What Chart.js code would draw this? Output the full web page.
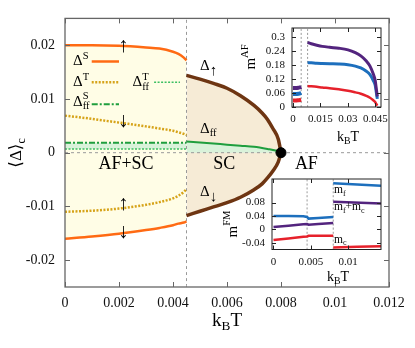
<!DOCTYPE html>
<html><head><meta charset="utf-8">
<script src="https://cdn.jsdelivr.net/npm/chart.js@4.4.1/dist/chart.umd.min.js"></script>
<style>
html,body{margin:0;padding:0;background:#fff;}
#wrap{position:relative;width:415px;height:348px;overflow:hidden;}
#wrap canvas{position:absolute;left:0;top:0;}
</style></head><body>
<div id="wrap">
<canvas id="main" width="415" height="348"></canvas>
<canvas id="inA" width="415" height="348"></canvas>
<canvas id="inB" width="415" height="348"></canvas>
</div>
<script>
// ---------------- main chart data ----------------
const xAfSc     = [0, 0.001, 0.002, 0.003, 0.0035, 0.004, 0.0042, 0.0044, 0.0045];
const deltaSUp  = [0.0200, 0.0200, 0.0199, 0.0196, 0.0194, 0.0188, 0.0184, 0.0177, 0.0172];
const deltaSLow = [-0.0160, -0.0156, -0.0151, -0.0144, -0.0140, -0.0135, -0.0132, -0.0130, -0.0128];
const deltaTUp  = [0.0069, 0.0063, 0.0056, 0.0049, 0.0045, 0.0041, 0.0038, 0.0035, 0.0033];
const deltaTLow = [-0.0110, -0.0108, -0.0104, -0.0097, -0.0092, -0.0085, -0.0080, -0.0073, -0.0068];
const xFfAfSc   = [0, 0.0045];
const deltaSff  = [0.00185, 0.00185];
const deltaTff  = [0.0007, 0.0007];
const xSc       = [0.0045, 0.005, 0.0055, 0.006, 0.0065, 0.007, 0.0073, 0.0075, 0.0077, 0.0079, 0.008];
const deltaUp   = [0.0144, 0.0137, 0.0129, 0.0120, 0.0106, 0.0088, 0.0074, 0.0062, 0.0045, 0.0025, 0.0];
const deltaDown = [-0.0117, -0.0109, -0.0101, -0.0093, -0.0083, -0.0069, -0.0058, -0.0047, -0.0034, -0.0017, 0.0];
const xFfSc     = [0.0045, 0.005, 0.0055, 0.006, 0.0065, 0.007, 0.0075, 0.0078, 0.008];
const deltaFf   = [0.0021, 0.0019, 0.0017, 0.0015, 0.0013, 0.0011, 0.0007, 0.0004, 0.0];
const tcPoint   = [0.008, 0];
const boundaryX = 0.0045;
const mainXTicks = [0, 0.002, 0.004, 0.006, 0.008, 0.01, 0.012];
const mainYTicks = [-0.02, -0.01, 0, 0.01, 0.02];
// legend sample segments
const legSX = [0.00099, 0.0020], legSY = [0.0170, 0.0170];
const legTX = [0.00099, 0.0020], legTY = [0.0131, 0.0131];
const legSffX = [0.00099, 0.0020], legSffY = [0.0090, 0.0090];
const legTffX = [0.0033, 0.00426], legTffY = [0.0131, 0.0131];

// ---------------- inset A (m^AF) ----------------
const xAfLow = [0, 0.0015, 0.003, 0.004, 0.0045];
const mAfLowPurple = [0.082, 0.082, 0.083, 0.085, 0.087];
const mAfLowBlue   = [0.056, 0.056, 0.057, 0.059, 0.061];
const mAfLowRed    = [0.028, 0.028, 0.029, 0.030, 0.031];
const xAfHigh = [0.008, 0.010, 0.013, 0.016, 0.020, 0.025, 0.030, 0.034, 0.037, 0.040, 0.042, 0.0438, 0.0448, 0.0455, 0.046];
const mAfHighPurple = [0.278, 0.272, 0.266, 0.261, 0.257, 0.253, 0.246, 0.234, 0.220, 0.198, 0.176, 0.142, 0.116, 0.075, 0.045];
const mAfHighBlue   = [0.191, 0.190, 0.188, 0.187, 0.186, 0.185, 0.182, 0.176, 0.168, 0.154, 0.139, 0.114, 0.095, 0.060, 0.035];
const mAfHighRed    = [0.090, 0.089, 0.087, 0.084, 0.081, 0.076, 0.070, 0.063, 0.057, 0.048, 0.040, 0.029, 0.022, 0.012, 0.006];
const insetAXTicks = [0, 0.015, 0.03, 0.045];
const insetAYTicks = [0, 0.06, 0.12, 0.18, 0.24, 0.3];

// ---------------- inset B (m^FM) ----------------
const xFmLow = [0, 0.002, 0.004, 0.0045, 0.0047, 0.006, 0.008];
const mFLow  = [0.040, 0.040, 0.039, 0.037, 0.032, 0.034, 0.037];
const mFCLow = [0.007, 0.011, 0.015, 0.016, 0.014, 0.016, 0.019];
const mCLow  = [-0.032, -0.027, -0.022, -0.021, -0.019, -0.019, -0.019];
const xFmHigh = [0.008, 0.0144];
const mFHigh  = [0.137, 0.130];
const mFCHigh = [0.082, 0.077];
const mCHigh  = [-0.054, -0.050];
const insetBXTicks = [0, 0.005, 0.01];
const insetBYTicks = [-0.04, 0, 0.04, 0.08];

// ---------------- helpers ----------------
const FAM = '"Liberation Serif","DejaVu Serif",serif';
const pts = (xs, ys) => xs.map((x, i) => ({x: x, y: ys[i]}));

function drawRich(ctx, x, y, parts, size, align, color) {
  const items = []; let w = 0;
  for (const p of parts) {
    const small = size * (p.scale || 0.7);
    if (p.t) { ctx.font = size + 'px ' + FAM; items.push({s: p.t, f: ctx.font, x: w, y: 0}); w += ctx.measureText(p.t).width; }
    let ext = 0;
    if (p.sup) { ctx.font = small + 'px ' + FAM; items.push({s: p.sup, f: ctx.font, x: w, y: -size * 0.36}); ext = Math.max(ext, ctx.measureText(p.sup).width); }
    if (p.sub) { ctx.font = small + 'px ' + FAM; items.push({s: p.sub, f: ctx.font, x: w, y: size * 0.30}); ext = Math.max(ext, ctx.measureText(p.sub).width); }
    w += ext;
  }
  const x0 = align === 'center' ? x - w / 2 : (align === 'right' ? x - w : x);
  ctx.fillStyle = color || '#000'; ctx.textBaseline = 'middle'; ctx.textAlign = 'left';
  for (const it of items) { ctx.font = it.f; ctx.fillText(it.s, x0 + it.x, y + it.y); }
}

const bgPlugin = {
  id: 'plotbg',
  beforeDatasetsDraw(chart, args, o) {
    if (!o.color) return;
    const a = chart.chartArea, ctx = chart.ctx;
    ctx.save(); ctx.fillStyle = o.color; ctx.fillRect(a.left, a.top, a.right - a.left, a.bottom - a.top); ctx.restore();
  }
};
const textPlugin = {
  id: 'texts',
  afterDatasetsDraw(chart, args, o) {
    const ctx = chart.ctx, xs = chart.scales.x, ys = chart.scales.y;
    ctx.save();
    (o.labels || []).forEach(l => drawRich(ctx, xs.getPixelForValue(l.x), ys.getPixelForValue(l.y), l.parts, l.size, l.align));
    (o.titles || []).forEach(t => {
      ctx.save(); ctx.translate(t.px, t.py); if (t.rot) ctx.rotate(-Math.PI / 2);
      drawRich(ctx, 0, 0, t.parts, t.size, 'center'); ctx.restore();
    });
    ctx.restore();
  }
};
const framePlugin = {
  id: 'frame',
  afterDraw(chart, args, o) {
    const ctx = chart.ctx, a = chart.chartArea, xs = chart.scales.x, ys = chart.scales.y, L = o.tick;
    ctx.save();
    ctx.strokeStyle = o.color; ctx.lineWidth = o.width;
    ctx.strokeRect(a.left, a.top, a.right - a.left, a.bottom - a.top);
    ctx.lineWidth = 1; ctx.beginPath();
    xs.ticks.forEach(t => { const p = Math.round(xs.getPixelForValue(t.value)) + 0.5;
      ctx.moveTo(p, a.bottom); ctx.lineTo(p, a.bottom - L); ctx.moveTo(p, a.top); ctx.lineTo(p, a.top + L); });
    ys.ticks.forEach(t => { const p = Math.round(ys.getPixelForValue(t.value)) + 0.5;
      ctx.moveTo(a.left, p); ctx.lineTo(a.left + L, p); ctx.moveTo(a.right, p); ctx.lineTo(a.right - L, p); });
    ctx.stroke(); ctx.restore();
  }
};

function axis(min, max, tickArr, fitKey, fitVal, fontSize, pad) {
  return {
    type: 'linear', min: min, max: max,
    afterBuildTicks: s => { s.ticks = tickArr.map(v => ({value: v})); },
    afterFit: s => { s[fitKey] = fitVal; },
    ticks: {callback: v => String(v), font: {family: FAM, size: fontSize}, color: '#111', padding: pad, maxRotation: 0, autoSkip: false},
    grid: {display: false, drawTicks: false}, border: {display: false}
  };
}
function line(data, color, width, opts) {
  return Object.assign({data: data, borderColor: color, borderWidth: width, pointRadius: 0, fill: false,
    cubicInterpolationMode: 'monotone', borderCapStyle: 'butt'}, opts || {});
}
const baseOpts = {responsive: false, animation: false, events: []};

// ---------------- main chart ----------------
const C_OR = '#ff6a13', C_GOLD = '#d6a319', C_GR = '#1f9e3e', C_GR2 = '#3cbf62', C_BR = '#6e3512';
const mainTexts = [
  {x: 0.0003, y: 0.0170, parts: [{t: 'Δ', sup: 'S'}], size: 15, align: 'left'},
  {x: 0.0003, y: 0.0131, parts: [{t: 'Δ', sup: 'T'}], size: 15, align: 'left'},
  {x: 0.0003, y: 0.0095, parts: [{t: 'Δ', sup: 'S', sub: 'ff'}], size: 15, align: 'left'},
  {x: 0.0025, y: 0.0131, parts: [{t: 'Δ', sup: 'T', sub: 'ff'}], size: 15, align: 'left'},
  {x: 0.00216, y: 0.0198, parts: [{t: '↑'}], size: 21, align: 'center'},
  {x: 0.00216, y: 0.0058, parts: [{t: '↓'}], size: 21, align: 'center'},
  {x: 0.00216, y: -0.0097, parts: [{t: '↑'}], size: 21, align: 'center'},
  {x: 0.00216, y: -0.0148, parts: [{t: '↓'}], size: 21, align: 'center'},
  {x: 0.00226, y: -0.0021, parts: [{t: 'AF+SC'}], size: 18, align: 'center'},
  {x: 0.0059, y: -0.0021, parts: [{t: 'SC'}], size: 18, align: 'center'},
  {x: 0.00894, y: -0.0021, parts: [{t: 'AF'}], size: 18, align: 'center'},
  {x: 0.0050, y: 0.0161, parts: [{t: 'Δ', sub: '↑', scale: 1.0}], size: 15, align: 'left'},
  {x: 0.0050, y: 0.0044, parts: [{t: 'Δ', sub: 'ff'}], size: 15, align: 'left'},
  {x: 0.0050, y: -0.0074, parts: [{t: 'Δ', sub: '↓', scale: 1.0}], size: 15, align: 'left'}
];
new Chart(document.getElementById('main'), {
  type: 'line',
  data: {datasets: [
    {data: [{x: tcPoint[0], y: tcPoint[1]}], showLine: false, pointRadius: 5, pointBackgroundColor: '#000', pointBorderColor: '#000', order: 0},
    line(pts(xFfSc, deltaFf), C_GR, 2, {fill: 'origin', backgroundColor: '#d9f2da', order: 1}),
    line(pts(xFfAfSc, deltaSff), C_GR, 2, {fill: 3, backgroundColor: '#d9f2da', borderDash: [6, 2, 2, 2], order: 2}),
    line(pts(xFfAfSc, deltaTff), C_GR2, 1.5, {borderDash: [2, 1.5], order: 3}),
    line(pts(xSc, deltaUp), C_BR, 3.5, {fill: 'origin', backgroundColor: '#f6ebd6', order: 4}),
    line(pts(xSc, deltaDown), C_BR, 3.5, {fill: 'origin', backgroundColor: '#f6ebd6', order: 5}),
    line(pts(xAfSc, deltaSUp), C_OR, 2.5, {fill: 'origin', backgroundColor: '#fffde6', order: 6}),
    line(pts(xAfSc, deltaSLow), C_OR, 2.5, {fill: 'origin', backgroundColor: '#fffde6', order: 7}),
    line(pts(xAfSc, deltaTUp), C_GOLD, 2.5, {borderDash: [2, 1.5], order: 8}),
    line(pts(xAfSc, deltaTLow), C_GOLD, 2.5, {borderDash: [2, 1.5], order: 9}),
    line(pts(legSX, legSY), C_OR, 2.5, {order: 10}),
    line(pts(legTX, legTY), C_GOLD, 2.5, {borderDash: [2, 1.5], order: 11}),
    line(pts(legSffX, legSffY), C_GR, 2, {borderDash: [6, 2, 2, 2], order: 12}),
    line(pts(legTffX, legTffY), C_GR2, 1.5, {borderDash: [2, 1.5], order: 13}),
    line([{x: 0, y: 0}, {x: 0.012, y: 0}], '#999', 1, {borderDash: [3, 3], order: 20}),
    line([{x: boundaryX, y: -0.025}, {x: boundaryX, y: 0.025}], '#999', 1, {borderDash: [3, 3], order: 21})
  ]},
  options: Object.assign({}, baseOpts, {
    layout: {padding: {left: 0, right: 26, top: 16, bottom: 0}},
    plugins: {legend: {display: false}, tooltip: {enabled: false}, filler: {drawTime: 'beforeDatasetsDraw'},
      texts: {labels: mainTexts, titles: [
        {px: 227, py: 321, parts: [{t: 'k', sub: 'B'}, {t: 'T'}], size: 19},
        {px: 17, py: 153, rot: true, parts: [{t: '⟨Δ⟩', sub: 'c'}], size: 17}
      ]},
      frame: {color: '#666', width: 1.3, tick: 5}},
    scales: {
      x: axis(0, 0.012, mainXTicks, 'height', 61, 14, 8),
      y: axis(-0.025, 0.025, mainYTicks, 'width', 65, 14, 10)
    }
  }),
  plugins: [bgPlugin, textPlugin, framePlugin]
});

// ---------------- inset A ----------------
const C_PU = '#53247e', C_BL = '#1d6fbd', C_RD = '#e6212b';
new Chart(document.getElementById('inA'), {
  type: 'line',
  data: {datasets: [
    line(pts(xAfLow, mAfLowPurple), C_PU, 4),
    line(pts(xAfLow, mAfLowBlue), C_BL, 4),
    line(pts(xAfLow, mAfLowRed), C_RD, 4),
    line(pts(xAfHigh, mAfHighPurple), C_PU, 3),
    line(pts(xAfHigh, mAfHighBlue), C_BL, 3),
    line(pts(xAfHigh, mAfHighRed), C_RD, 2.5),
    line([{x: 0.0045, y: 0}, {x: 0.0045, y: 0.34}], '#999', 1, {borderDash: [2, 2], order: 10}),
    line([{x: 0.008, y: 0}, {x: 0.008, y: 0.34}], '#999', 1, {borderDash: [2, 2], order: 11})
  ]},
  options: Object.assign({}, baseOpts, {
    layout: {padding: {left: 0, right: 34, top: 28, bottom: 0}},
    plugins: {legend: {display: false}, tooltip: {enabled: false}, plotbg: {color: '#fff'},
      texts: {labels: [], titles: [
        {px: 348, py: 137, parts: [{t: 'k', sub: 'B'}, {t: 'T'}], size: 14},
        {px: 251, py: 57, rot: true, parts: [{t: 'm', sup: 'AF'}], size: 15}
      ]},
      frame: {color: '#222', width: 1, tick: 4}},
    scales: {
      x: axis(-0.0005, 0.048, insetAXTicks, 'height', 241, 11, 6),
      y: axis(0, 0.34, insetAYTicks, 'width', 292, 11, 7)
    }
  }),
  plugins: [bgPlugin, textPlugin, framePlugin]
});

// ---------------- inset B ----------------
new Chart(document.getElementById('inB'), {
  type: 'line',
  data: {datasets: [
    line(pts(xFmLow, mFLow), C_BL, 2.5, {cubicInterpolationMode: 'default', tension: 0}),
    line(pts(xFmLow, mFCLow), C_PU, 2.5, {cubicInterpolationMode: 'default', tension: 0}),
    line(pts(xFmLow, mCLow), C_RD, 2.5, {cubicInterpolationMode: 'default', tension: 0}),
    line(pts(xFmHigh, mFHigh), C_BL, 2.5),
    line(pts(xFmHigh, mFCHigh), C_PU, 2.5),
    line(pts(xFmHigh, mCHigh), C_RD, 2.5),
    line([{x: 0.0045, y: -0.06}, {x: 0.0045, y: 0.15}], '#999', 1, {borderDash: [2, 2], order: 10}),
    line([{x: 0.008, y: -0.06}, {x: 0.008, y: 0.15}], '#999', 1, {borderDash: [2, 2], order: 11})
  ]},
  options: Object.assign({}, baseOpts, {
    layout: {padding: {left: 0, right: 34, top: 179, bottom: 0}},
    plugins: {legend: {display: false}, tooltip: {enabled: false}, plotbg: {color: '#fff'},
      texts: {labels: [
        {x: 0.0081, y: 0.117, parts: [{t: 'm', sub: 'f'}], size: 11.5, align: 'left'},
        {x: 0.0081, y: 0.066, parts: [{t: 'm', sub: 'f'}, {t: '+m', sub: 'c'}], size: 11.5, align: 'left'},
        {x: 0.0081, y: -0.031, parts: [{t: 'm', sub: 'c'}], size: 11.5, align: 'left'}
      ], titles: [
        {px: 338, py: 277, parts: [{t: 'k', sub: 'B'}, {t: 'T'}], size: 14},
        {px: 233, py: 224, rot: true, parts: [{t: 'm', sup: 'FM'}], size: 15}
      ]},
      frame: {color: '#222', width: 1, tick: 4}},
    scales: {
      x: axis(-0.0002, 0.0144, insetBXTicks, 'height', 98.5, 11, 6),
      y: axis(-0.06, 0.15, insetBYTicks, 'width', 272, 11, 7)
    }
  }),
  plugins: [bgPlugin, textPlugin, framePlugin]
});
</script>
</body></html>
